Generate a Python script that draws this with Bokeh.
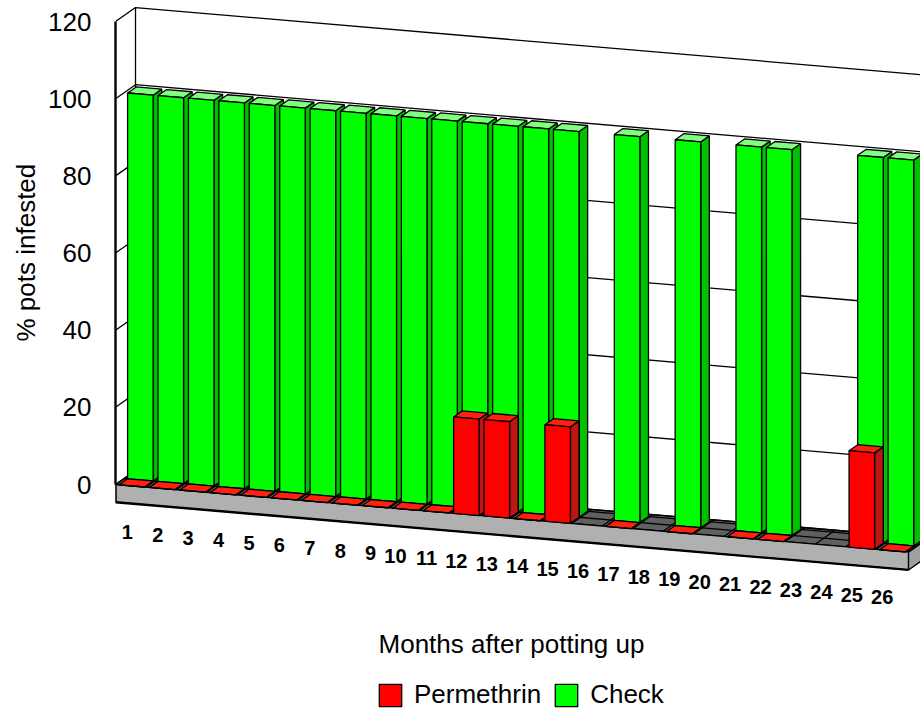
from bokeh.plotting import figure
from bokeh.embed import file_html
from bokeh.resources import INLINE
from bokeh.core.properties import value
from bokeh.models import Range1d, FixedTicker, Legend, LegendItem, Title

# Infestation by month; None marks a month with no record for that treatment
months = [str(m) for m in range(1, 27)]
permethrin = [0, 0, 0, 0, 0, 0, 0, 0, 0, 0, 0, 25, 25, 0, 25, None, 0, None, 0, None, 0, 0, None, None, 25, 0]
check = [100, 100, 100, 100, 100, 100, 100, 100, 100, 100, 100, 100, 100, 100, 100, None, 100, None, 100, None, 100, 100, None, None, 100, 100]
y_ticks = [0, 20, 40, 60, 80, 100, 120]
x_title = "Months after potting up"
y_title = "% pots infested"

FONT = "Liberation Sans"

# Oblique projection of (month position, value, depth) onto the plane of the figure
PX_CAT = 30.42
PX_VAL = 3.858
SKEW = 0.0854 * PX_CAT / PX_VAL
DEPTH_X = 20 / PX_CAT
DEPTH_Y = 14 / PX_VAL
ROW = 0.43
BAR_LEFT = 0.115
BAR_W = 0.84
N_CAT = 26.07
SLAB = 17.7 / PX_VAL
EDGE = 1.3


def px(c, d=0.0):
    return c + d * DEPTH_X


def py(c, v, d=0.0):
    return v - SKEW * c + d * DEPTH_Y


def quad3(corners):
    return [px(c, d) for c, v, d in corners], [py(c, v, d) for c, v, d in corners]


p = figure(width=920, height=715, output_backend="svg", toolbar_location=None,
           x_range=Range1d(0, 805 / PX_CAT), y_range=Range1d(-231 / PX_VAL, 484 / PX_VAL),
           x_axis_location=None, min_border_left=115, min_border_right=0,
           min_border_top=0, min_border_bottom=0)
p.grid.visible = False
p.outline_line_color = None
p.background_fill_color = "white"

ax = p.yaxis[0]
ax.ticker = FixedTicker(ticks=y_ticks)
ax.bounds = (0, 120)
ax.axis_line_width = 2.4
ax.major_tick_line_color = None
ax.minor_tick_line_color = None
ax.major_label_text_font = FONT
ax.major_label_text_font_size = "26px"
ax.major_label_text_color = "black"
ax.major_label_standoff = 18

# The axis title sits beside the tick labels, starting near the foot of the axis
p.add_layout(Title(text=y_title, align="left", offset=374, standoff=8, vertical_align="middle",
                   text_font=FONT, text_font_size="26px", text_font_style="normal",
                   text_color="black"), "left")

# Floor, with its grid of month boundaries and the line between the two rows
fx, fy = quad3([(0, 0, 0), (N_CAT, 0, 0), (N_CAT, 0, 1), (0, 0, 1)])
p.patch(fx, fy, fill_color="#606060", line_color="black", line_width=EDGE)
for k in range(1, 27):
    gx, gy = quad3([(k, 0, 0), (k, 0, 1)])
    p.line(gx, gy, line_color="black", line_width=EDGE)
for d in (ROW, 2 * ROW):
    gx, gy = quad3([(0, 0, d), (N_CAT, 0, d)])
    p.line(gx, gy, line_color="black", line_width=EDGE)

# Gridlines along the back wall and the left wall
for t in y_ticks:
    gx, gy = quad3([(0, t, 0), (0, t, 1), (N_CAT, t, 1)])
    p.line(gx, gy, line_color="black", line_width=EDGE)
wx, wy = quad3([(0, 0, 1), (0, 120, 1)])
p.line(wx, wy, line_color="black", line_width=EDGE)

# Slab under the floor: front and right faces
sx, sy = quad3([(0, 0, 0), (N_CAT, 0, 0), (N_CAT, -SLAB, 0), (0, -SLAB, 0)])
p.patch(sx, sy, fill_color="#b0b0b0", line_color="black", line_width=EDGE)
rx, ry = quad3([(N_CAT, 0, 0), (N_CAT, 0, 1), (N_CAT, -SLAB, 1), (N_CAT, -SLAB, 0)])
p.patch(rx, ry, fill_color="#a0a0a0", line_color="black", line_width=EDGE)
bx, by = quad3([(0, -SLAB, 0), (N_CAT, -SLAB, 0)])
p.line(bx, by, line_color="black", line_width=2.4)
lx, ly = quad3([(0, 0, 0), (0, -SLAB, 0)])
p.line(lx, ly, line_color="black", line_width=2.4)


def draw_row(values, d0, d1, front, side, top):
    """Draw one row of bars: sides, then tops, then fronts, left to right."""
    sides, tops, fronts = ([], []), ([], []), ([], [])
    for i, v in enumerate(values):
        if v is None:
            continue
        a = i + BAR_LEFT
        b = a + BAR_W
        for store, corners in (
            (sides, [(b, 0, d0), (b, 0, d1), (b, v, d1), (b, v, d0)]),
            (tops, [(a, v, d0), (b, v, d0), (b, v, d1), (a, v, d1)]),
            (fronts, [(a, 0, d0), (b, 0, d0), (b, v, d0), (a, v, d0)]),
        ):
            xs, ys = quad3(corners)
            store[0].append(xs)
            store[1].append(ys)
    p.patches(sides[0], sides[1], fill_color=side, line_color="black", line_width=EDGE)
    p.patches(tops[0], tops[1], fill_color=top, line_color="black", line_width=EDGE)
    return p.patches(fronts[0], fronts[1], fill_color=front, line_color="black", line_width=EDGE)


check_r = draw_row(check, ROW, 2 * ROW, "#00ff00", "#00c000", "#80ff80")
perm_r = draw_row(permethrin, 0, ROW, "#ff0000", "#c01515", "#ff2010")

# Month labels follow the slant of the floor
label_c = [i + 0.57 for i in range(len(months))]
p.text(x=label_c, y=[py(c, -12.05) for c in label_c], text=months,
       text_font=value(FONT), text_font_size="20px", text_font_style="bold",
       text_align="right", text_baseline="middle", text_color="black")

p.text(x=[(511 - 115) / PX_CAT], y=[(484 - 643) / PX_VAL], text=[x_title],
       text_font=value(FONT), text_font_size="26px",
       text_align="center", text_baseline="middle", text_color="black")

legend = Legend(items=[LegendItem(label="Permethrin", renderers=[perm_r], index=0),
                       LegendItem(label="Check", renderers=[check_r], index=0)],
                orientation="horizontal", location=(261, 5), padding=0, margin=0,
                spacing=11, glyph_width=28, glyph_height=28, label_standoff=10,
                label_text_font=FONT, label_text_font_size="26px", label_text_color="black",
                border_line_color=None, background_fill_color=None)
p.add_layout(legend, "center")

open("out.html", "w").write(file_html(p, INLINE))
